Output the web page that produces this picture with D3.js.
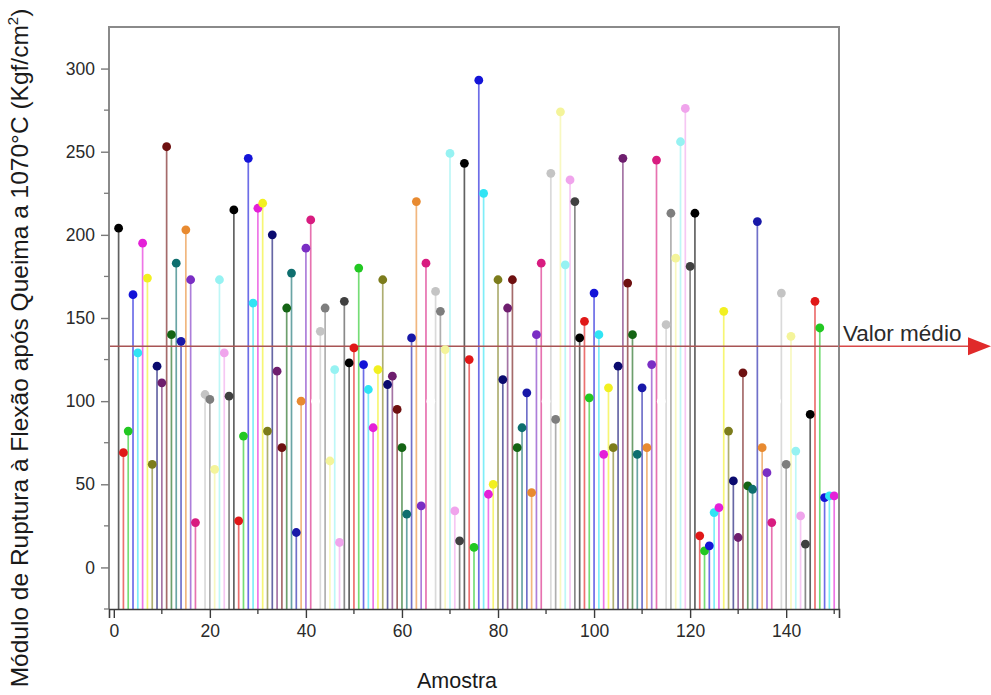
<!DOCTYPE html>
<html>
<head>
<meta charset="utf-8">
<script src="https://cdn.jsdelivr.net/npm/d3@7"></script>
<style>
  html, body { margin: 0; padding: 0; background: #ffffff; }
  svg { display: block; font-family: "Liberation Sans", Arial, sans-serif; }
</style>
</head>
<body>
<svg id="chart" width="991" height="695"></svg>
<script>
// ---------- data ----------
const samples = d3.range(1, 151);
const values = [
  204, 69, 82, 164, 129, 195, 174, 62, 121, 111,
  253, 140, 183, 136, 203, 173, 27, 100, 104, 101,
  59, 173, 129, 103, 215, 28, 79, 246, 159, 216,
  219, 82, 200, 118, 72, 156, 177, 21, 100, 192,
  209, 100, 142, 156, 64, 119, 15, 160, 123, 132,
  180, 122, 107, 84, 119, 173, 110, 115, 95, 72,
  32, 138, 220, 37, 183, 100, 166, 154, 131, 249,
  34, 16, 243, 125, 12, 293, 225, 44, 50, 173,
  113, 156, 173, 72, 84, 105, 45, 140, 183, 100,
  237, 89, 274, 182, 233, 220, 138, 148, 102, 165,
  140, 68, 108, 72, 121, 246, 171, 140, 68, 108,
  72, 122, 245, 100, 146, 213, 186, 256, 276, 181,
  213, 19, 10, 13, 33, 36, 154, 82, 52, 18,
  117, 49, 47, 208, 72, 57, 27, 100, 165, 62,
  139, 70, 31, 14, 92, 160, 144, 42, 43, 43
];
const meanValue = 133;
const meanLabel = "Valor médio";
const xTicks = [0, 20, 40, 60, 80, 100, 120, 140];
const yTicks = [0, 50, 100, 150, 200, 250, 300];
const xTitle = "Amostra";
const yTitle = "Módulo de Ruptura à Flexão após Queima a 1070°C (Kgf/cm";

// Origin-style colour increment (24 colours)
const palette = [
  "#000000", "#e01818", "#22c822", "#1414d8", "#30e4f4", "#e420d8",
  "#f2f020", "#7c7c1c", "#0a0a6e", "#6e1e6e", "#6e1010", "#146414",
  "#0e6e6e", "#1818a8", "#e88a30", "#7a2ec4", "#d81c80", "#ffffff",
  "#c4c4c4", "#7e7e7e", "#f4f49a", "#96f2f2", "#f0a4ec", "#404040"
];

// ---------- layout ----------
const svg = d3.select("#chart");
const pL = 109, pR = 839, pT = 27, pB = 609;

const x = d3.scaleLinear().domain([-1, 151]).range([pL, pR]);
const y = d3.scaleLinear().domain([-25, 325]).range([pB, pT]);

const data = samples.map((s, i) => ({ s, v: values[i], c: palette[i % palette.length] }));

// stems
svg.append("g").selectAll("line").data(data).join("line")
  .attr("x1", d => x(d.s)).attr("x2", d => x(d.s))
  .attr("y1", y(-25)).attr("y2", d => y(d.v))
  .attr("stroke", d => d.c)
  .attr("stroke-opacity", 0.62)
  .attr("stroke-width", 1.7);

// mean line inside plot
svg.append("line")
  .attr("x1", pL).attr("x2", pR)
  .attr("y1", y(meanValue)).attr("y2", y(meanValue))
  .attr("stroke", "#a85454").attr("stroke-width", 1.5);

// markers
svg.append("g").selectAll("circle").data(data).join("circle")
  .attr("cx", d => x(d.s)).attr("cy", d => y(d.v))
  .attr("r", 4.4)
  .attr("fill", d => d.c);

// frame (top, right, left)
svg.append("path")
  .attr("d", `M${pL},${pB} L${pL},${pT} L${pR},${pT} L${pR},${pB}`)
  .attr("fill", "none").attr("stroke", "#8a8a8a").attr("stroke-width", 2);

// x axis
const xAxis = d3.axisBottom(x).tickValues(xTicks).tickSize(9).tickPadding(7).tickFormat(d3.format("d"));
const gx = svg.append("g").attr("transform", `translate(0,${pB})`).call(xAxis);
gx.select(".domain").attr("stroke", "#3a3a3a").attr("stroke-width", 1.6);
gx.selectAll(".tick line").attr("stroke", "#3a3a3a").attr("stroke-width", 1.4);
gx.selectAll("text").attr("font-size", 17.5).attr("fill", "#2a2a2a")
  .attr("font-family", "Liberation Sans, Arial, sans-serif");
// minor x ticks
svg.append("g").selectAll("line").data([10, 30, 50, 70, 90, 110, 130, 150]).join("line")
  .attr("x1", d => x(d)).attr("x2", d => x(d))
  .attr("y1", pB).attr("y2", pB + 5)
  .attr("stroke", "#3a3a3a").attr("stroke-width", 1.3);

// y axis
const yAxis = d3.axisLeft(y).tickValues(yTicks).tickSize(8).tickPadding(6).tickFormat(d3.format("d"));
const gy = svg.append("g").attr("transform", `translate(${pL},0)`).call(yAxis);
gy.select(".domain").remove();
gy.selectAll(".tick line").attr("stroke", "#7a7a7a").attr("stroke-width", 1.4);
gy.selectAll("text").attr("font-size", 17.5).attr("fill", "#2a2a2a")
  .attr("font-family", "Liberation Sans, Arial, sans-serif");
svg.append("g").selectAll("line").data([-25, 25, 75, 125, 175, 225, 275]).join("line")
  .attr("x1", pL).attr("x2", pL - 5)
  .attr("y1", d => y(d)).attr("y2", d => y(d))
  .attr("stroke", "#7a7a7a").attr("stroke-width", 1.3);

// mean line outside plot with arrow
const my = y(meanValue);
svg.append("line")
  .attr("x1", pR).attr("x2", 970)
  .attr("y1", my).attr("y2", my)
  .attr("stroke", "#d84848").attr("stroke-width", 1.3);
svg.append("path")
  .attr("d", `M968,${my - 9} L991,${my} L968,${my + 9} Z`)
  .attr("fill", "#e02a2a");
svg.append("text")
  .attr("x", 843).attr("y", my - 5)
  .attr("font-size", 22.5).attr("fill", "#2a2a2a")
  .text(meanLabel);

// axis titles
svg.append("text")
  .attr("x", 457).attr("y", 688)
  .attr("text-anchor", "middle")
  .attr("font-size", 21.5).attr("fill", "#1a1a1a")
  .text(xTitle);

const yt = svg.append("text")
  .attr("transform", "translate(28,348) rotate(-90)")
  .attr("text-anchor", "middle")
  .attr("font-size", 24.5).attr("fill", "#1a1a1a");
yt.append("tspan").text(yTitle);
yt.append("tspan").attr("dy", -10).attr("font-size", 15).text("2");
yt.append("tspan").attr("dy", 10).text(")");
</script>
</body>
</html>
